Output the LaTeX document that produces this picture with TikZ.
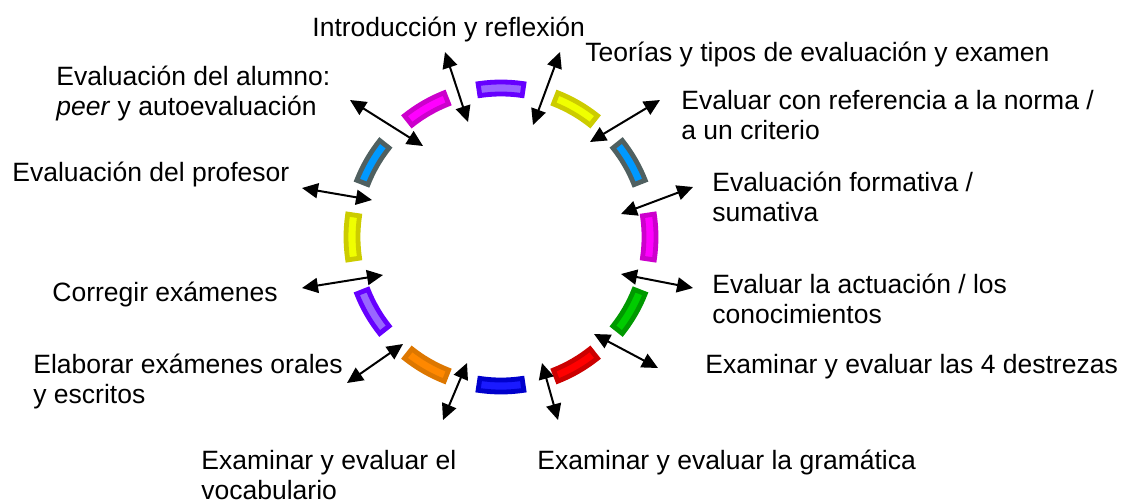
\documentclass[tikz,border=0pt]{standalone}
\usepackage{fontspec}
\setmainfont{Liberation Sans}
\usetikzlibrary{arrows.meta}
\definecolor{violet_dark}{RGB}{102,0,255}
\definecolor{violet_light}{RGB}{153,102,255}
\definecolor{yellow_dark}{RGB}{204,204,0}
\definecolor{yellow_light}{RGB}{240,255,0}
\definecolor{slate_dark}{RGB}{80,96,96}
\definecolor{slate_light}{RGB}{0,153,255}
\definecolor{magenta_dark}{RGB}{204,0,204}
\definecolor{magenta_light}{RGB}{255,0,255}
\definecolor{green_dark}{RGB}{0,153,0}
\definecolor{green_light}{RGB}{0,204,0}
\definecolor{red_dark}{RGB}{204,0,0}
\definecolor{red_light}{RGB}{255,0,0}
\definecolor{blue_dark}{RGB}{0,0,204}
\definecolor{blue_light}{RGB}{26,26,255}
\definecolor{orange_dark}{RGB}{221,119,0}
\definecolor{orange_light}{RGB}{255,136,0}

\begin{document}
\begin{tikzpicture}[x=0.5pt,y=-0.5pt,
	topic/.style={anchor=base west,align=left,inner sep=0pt,font=\fontsize{13.25}{15}\selectfont},
	pointer/.style={black,line width=1pt,{Triangle[length=8pt,width=7.5pt]}-{Triangle[length=8pt,width=7.5pt]}}]
	\useasboundingbox (0,0) rectangle (1122,499);

	% ring of segments
	\foreach \a/\col in {-90/violet,-60/yellow,-30/slate,0/magenta,30/green,60/red,90/blue,120/orange,150/violet,180/yellow,210/slate,240/magenta}
		\draw[line width=2.4pt,draw=\col_dark,fill=\col_light,shift={(501,237)}]
			(\a-8.5:143) arc[start angle=\a-8.5,end angle=\a+8.5,radius=143]
			-- (\a+8.5:155) arc[start angle=\a+8.5,end angle=\a-8.5,radius=155] -- cycle;

	% topics (multi-line ones sit on their last line)
	\node[topic] (intro) at (312,36) {Introducción y reflexión};
	\node[topic] (teorias) at (585,61) {Teorías y tipos de evaluación y examen};
	\node[topic] (norma) at (681,139) {Evaluar con referencia a la norma /\\a un criterio};
	\node[topic] (formativa) at (712,221) {Evaluación formativa /\\sumativa};
	\node[topic] (actuacion) at (712,323) {Evaluar la actuación / los\\conocimientos};
	\node[topic] (destrezas) at (705,373) {Examinar y evaluar las 4 destrezas};
	\node[topic] (gramatica) at (537,469) {Examinar y evaluar la gramática};
	\node[topic] (vocabulario) at (201,499) {Examinar y evaluar el\\vocabulario};
	\node[topic] (elaborar) at (33,403) {Elaborar exámenes orales\\y escritos};
	\node[topic] (corregir) at (52,301) {Corregir exámenes};
	\node[topic] (profesor) at (12,181) {Evaluación del profesor};
	\node[topic] (alumno) at (56,115) {Evaluación del alumno:\\\textit{peer} y autoevaluación};

	% arrow ends
	\coordinate (intro_in) at (468,122);
	\coordinate (intro_out) at (445,52);
	\coordinate (teorias_in) at (533,125);
	\coordinate (teorias_out) at (560,52);
	\coordinate (norma_in) at (590,142);
	\coordinate (norma_out) at (660,100);
	\coordinate (formativa_in) at (621,214);
	\coordinate (formativa_out) at (693,187);
	\coordinate (actuacion_in) at (621,274);
	\coordinate (actuacion_out) at (693,288);
	\coordinate (destrezas_in) at (594,334);
	\coordinate (destrezas_out) at (658,368);
	\coordinate (gramatica_in) at (542,363);
	\coordinate (gramatica_out) at (558,420);
	\coordinate (vocabulario_in) at (467,363);
	\coordinate (vocabulario_out) at (443,420);
	\coordinate (elaborar_in) at (403,344);
	\coordinate (elaborar_out) at (347,383);
	\coordinate (corregir_in) at (383,275);
	\coordinate (corregir_out) at (302,288);
	\coordinate (profesor_in) at (372,200);
	\coordinate (profesor_out) at (302,188);
	\coordinate (alumno_in) at (423,146);
	\coordinate (alumno_out) at (350,100);

	\foreach \x in {intro,teorias,norma,formativa,actuacion,destrezas,gramatica,vocabulario,elaborar,corregir,profesor,alumno}
		\draw[pointer] (\x_in) -- (\x_out);
\end{tikzpicture}
\end{document}
